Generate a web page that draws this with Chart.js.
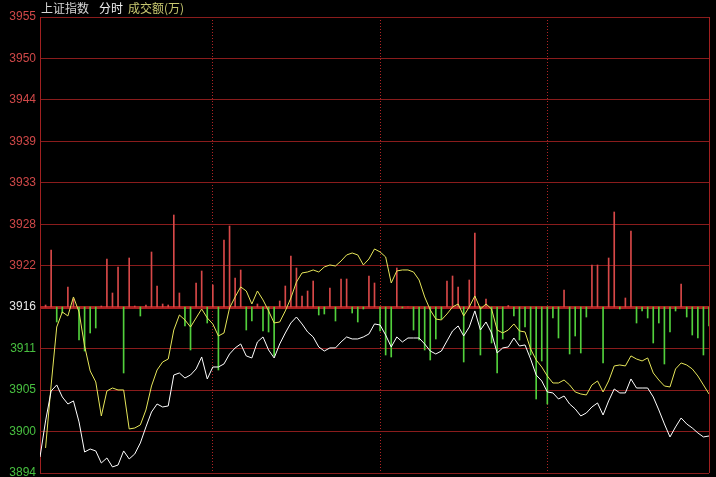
<!DOCTYPE html>
<html>
<head>
<meta charset="utf-8">
<script src="https://cdn.jsdelivr.net/npm/chart.js@4.4.1/dist/chart.umd.min.js"></script>
<style>
    body { margin: 0; background: #000; }
    #wrap { position: relative; width: 716px; height: 477px; }
    #title {
        position: absolute; left: 41px; top: 0px;
        font: 12px "Noto Sans CJK SC", "Noto Sans", sans-serif; line-height: 15px;
        white-space: nowrap;
    }
    #title span { display: inline-block; }
</style>
</head>
<body>
<div id="wrap">
    <canvas id="myChart" width="716" height="477"></canvas>
    <div id="title"><span style="color:#d6d6d6">上证指数</span><span style="color:#f0f0f0;margin-left:10px">分时</span><span style="color:#c8c870;margin-left:5px">成交额(万)</span></div>
</div>
<script>

    // y axis labels, bottom to top (prev close 3916 in the middle)
    const TICK_LABELS = ['3894', '3900', '3905', '3911', '3916', '3922', '3928', '3933', '3939', '3944', '3950', '3955'];
    const Y_MIN = 3894.13;
    const Y_MAX = 3955.13;

    // dotted time dividers (10:30, 11:30/13:00, 14:00), in sample index
    const TIME_MARKS = [31, 61, 91];
    const SAMPLES = 121;

    // index price (white)
    const PRICE = [
        3896.27, 3901.09, 3905.10, 3905.91, 3904.30, 3903.36, 3903.77, 3900.96, 3896.94, 3897.34,
        3897.08, 3895.47, 3896.14, 3894.94, 3895.20, 3897.08, 3896.01, 3896.68, 3898.15, 3900.29,
        3902.29, 3903.36, 3902.96, 3903.10, 3907.24, 3907.51, 3906.84, 3907.24, 3908.05, 3909.65,
        3906.71, 3908.31, 3908.31, 3908.72, 3910.05, 3910.86, 3911.39, 3909.79, 3909.52, 3911.66,
        3912.33, 3910.59, 3909.52, 3911.39, 3912.86, 3914.20, 3915.00, 3914.07, 3913.00, 3912.33,
        3910.99, 3910.45, 3910.86, 3910.86, 3911.66, 3912.33, 3912.06, 3912.06, 3912.33, 3912.73,
        3914.07, 3913.93, 3912.59, 3910.99, 3912.33, 3911.66, 3912.19, 3912.19, 3912.19, 3911.39,
        3910.45, 3910.05, 3910.45, 3911.79, 3913.13, 3913.80, 3912.46, 3913.66, 3915.81, 3913.26,
        3914.33, 3912.86, 3910.19, 3910.86, 3910.99, 3912.19, 3911.12, 3911.26, 3909.38, 3907.24,
        3906.44, 3904.97, 3904.84, 3904.03, 3904.43, 3903.36, 3902.70, 3901.76, 3902.16, 3902.96,
        3903.50, 3901.89, 3903.77, 3905.37, 3904.84, 3904.84, 3906.71, 3905.50, 3905.50, 3905.50,
        3904.30, 3902.56, 3900.69, 3898.95, 3900.29, 3901.49, 3900.69, 3900.15, 3899.49, 3898.95,
        3899.08
    ];

    // unweighted average (yellow)
    const AVG = [
        null, 3897.48, 3905.91, 3913.66, 3915.67, 3915.14, 3917.68, 3915.67, 3911.12, 3907.78,
        3906.31, 3901.76, 3905.10, 3905.50, 3905.24, 3905.24, 3900.02, 3900.15, 3900.56, 3902.56,
        3905.77, 3907.91, 3908.98, 3909.38, 3913.26, 3915.27, 3914.60, 3913.66, 3914.87, 3916.07,
        3914.87, 3914.07, 3912.46, 3912.86, 3916.21, 3917.68, 3919.02, 3918.48, 3916.74, 3918.48,
        3917.28, 3915.81, 3914.20, 3914.33, 3915.81, 3917.54, 3919.68, 3920.89, 3921.02, 3921.29,
        3921.02, 3921.69, 3921.96, 3921.82, 3922.49, 3923.30, 3923.56, 3923.30, 3921.96, 3922.76,
        3924.10, 3923.70, 3923.03, 3919.55, 3921.16, 3921.29, 3921.29, 3921.02, 3919.95, 3917.68,
        3915.94, 3914.73, 3914.60, 3915.40, 3916.34, 3916.74, 3915.14, 3916.34, 3917.81, 3916.07,
        3916.74, 3916.07, 3913.26, 3912.86, 3913.26, 3914.07, 3913.13, 3913.00, 3910.72, 3909.25,
        3908.31, 3907.11, 3906.17, 3906.17, 3906.57, 3905.91, 3904.97, 3904.70, 3904.57, 3905.91,
        3906.44, 3904.97, 3906.44, 3908.45, 3908.58, 3908.45, 3909.79, 3909.38, 3909.12, 3909.52,
        3907.51, 3906.57, 3905.77, 3905.64, 3908.05, 3908.85, 3908.58, 3908.05, 3907.11, 3905.91,
        3904.70
    ];

    // red / green strength bars
    const BARS = [
        0, 0.2, 5.7, -1.5, -0.6, 2.0, 0.8, -3.3, -4.4, -2.6,
        -2.1, 0.1, 4.8, 1.4, 4.0, -6.6, 4.9, 0.1, -0.9, 0.2,
        5.5, 2.1, 0.3, 0.2, 9.2, 1.4, -1.9, -4.3, 2.4, 3.6,
        -1.6, 2.2, -6.3, 6.7, 8.1, 2.9, 3.7, -2.3, -1.4, 0.3,
        -2.4, -2.5, -4.9, 0.6, 2.1, 5.1, 3.9, 1.1, 1.6, 2.6,
        -0.8, -0.7, 1.9, -1.4, 2.8, 2.8, -0.6, -1.5, -0.2, 3.1,
        2.4, -2.4, -4.8, -5.0, 3.9, -0.1, 0, -2.3, -3.3, -4.3,
        -5.3, -3.2, -1.2, 2.6, 3.1, 2.0, -5.5, 2.7, 7.4, -4.8,
        0.8, -3.6, -6.6, -3.2, 0.15, -0.9, -3.3, -2.0, -4.8, -9.2,
        -5.4, -9.7, -1.1, -3.1, 1.7, -4.7, -2.9, -4.6, -1.0, 4.2,
        4.2, -5.6, 4.9, 9.5, -0.2, 0.9, 7.6, -1.6, -0.4, -1.1,
        -3.6, -1.6, -5.7, -2.5, -0.4, 2.3, -1.0, -2.8, -3.1, -4.8,
        -1.9
    ];

    const GRID = '#8a1c1c';
    const toPoints = arr => arr.map((v, i) => ({ x: i, y: v }));

    const rightBorder = {
        id: 'rightBorder',
        afterDraw(chart) {
            const { ctx, chartArea } = chart;
            ctx.save();
            ctx.strokeStyle = '#a02020';
            ctx.lineWidth = 1;
            ctx.beginPath();
            ctx.moveTo(chartArea.right + 0.5, chartArea.top);
            ctx.lineTo(chartArea.right + 0.5, chartArea.bottom);
            ctx.stroke();
            ctx.restore();
        }
    };

    const config = {
        type: 'line',
        data: {
            datasets: [
                {
                    label: 'price',
                    data: toPoints(PRICE),
                    borderColor: '#ffffff',
                    borderWidth: 1,
                    pointRadius: 0,
                    tension: 0,
                    order: 0
                },
                {
                    label: 'avg',
                    data: toPoints(AVG),
                    borderColor: '#e6e65a',
                    borderWidth: 1,
                    pointRadius: 0,
                    tension: 0,
                    order: 1
                },
                {
                    type: 'bar',
                    label: 'bars',
                    data: toPoints(BARS),
                    yAxisID: 'yb',
                    barThickness: 1,
                    backgroundColor: BARS.map(v => v >= 0 ? '#d84848' : '#52d03c'),
                    borderWidth: 0,
                    order: 2
                }
            ]
        },
        options: {
            responsive: false,
            animation: false,
            layout: { padding: { top: 17, right: 7, bottom: 4, left: 0 } },
            plugins: {
                legend: { display: false },
                tooltip: { enabled: false },
                title: { display: false }
            },
            scales: {
                x: {
                    type: 'linear',
                    min: 0,
                    max: SAMPLES - 1,
                    offset: false,
                    afterBuildTicks: s => { s.ticks = TIME_MARKS.map(v => ({ value: v })); },
                    afterFit: s => { s.height = 0; s.paddingLeft = 0; s.paddingRight = 0; },
                    ticks: { display: false },
                    grid: { color: '#b02424', lineWidth: 1, drawTicks: false, offset: false },
                    border: { display: false, dash: [1, 2] }
                },
                y: {
                    min: Y_MIN,
                    max: Y_MAX,
                    afterBuildTicks: s => {
                        const step = (Y_MAX - Y_MIN) / (TICK_LABELS.length - 1);
                        s.ticks = TICK_LABELS.map((_, i) => ({ value: Y_MIN + i * step }));
                    },
                    afterFit: s => { s.width = 40; s.paddingTop = 0; s.paddingBottom = 0; },
                    ticks: {
                        padding: 4,
                        font: { family: 'Liberation Sans', size: 12 },
                        color: c => c.index === 4 ? '#e8e8e8' : (c.index < 4 ? '#48c040' : '#d04848'),
                        callback: (v, i) => TICK_LABELS[i]
                    },
                    grid: {
                        drawTicks: false,
                        color: c => c.index === 4 ? '#a82020' : GRID,
                        lineWidth: c => c.index === 4 ? 3 : 1
                    },
                    border: { color: '#a02020', width: 1 }
                },
                yb: {
                    display: false,
                    min: -16.6,
                    max: 29.0
                }
            }
        },
        plugins: [rightBorder]
    };

    const ctx = document.getElementById('myChart');

    new Chart(ctx, config);
</script>
</body>
</html>
